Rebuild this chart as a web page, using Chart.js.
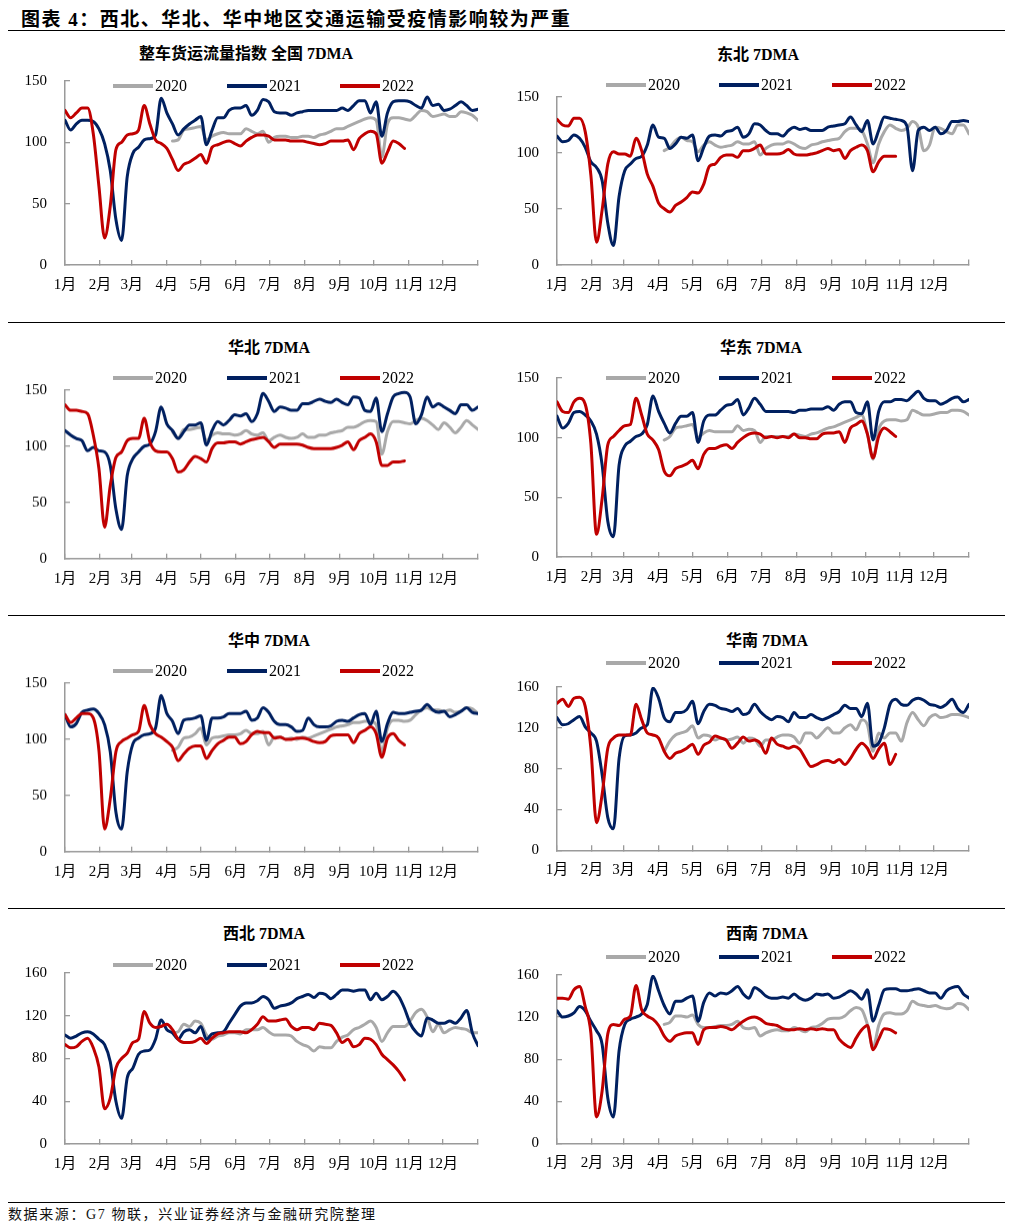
<!DOCTYPE html>
<html>
<head>
<meta charset="utf-8">
<script src="https://cdn.jsdelivr.net/npm/chart.js@4.4.1/dist/chart.umd.min.js"></script>
<style>
  html, body { margin: 0; padding: 0; background: #fff; }
  #page { position: relative; width: 1018px; height: 1228px; overflow: hidden; color: #000; }
  .hr { position: absolute; left: 8px; width: 997px; height: 1px; background: #000; }
  .main-title { position: absolute; left: 21px; top: 17px; transform: translateY(-50%);
    font: bold 19px "Liberation Serif", "Noto Sans CJK SC", serif; letter-spacing: 1.5px; white-space: nowrap; }
  .ptitle { position: absolute; transform: translate(-50%, -50%);
    font: bold 16px "Liberation Serif", "Noto Sans CJK SC", serif; white-space: nowrap; }
  .legend-item { position: absolute; display: flex; align-items: center; transform: translateY(-50%);
    font: 16px "Liberation Serif", serif; }
  .legend-item i { display: inline-block; width: 40px; height: 4px; margin-right: 2px; }
  .chartbox { position: absolute; }
  .source { position: absolute; left: 8px; top: 1213px; transform: translateY(-50%);
    font: 14px "Liberation Serif", "Noto Sans CJK SC", serif; letter-spacing: 1.6px; white-space: nowrap; color: #111; }
</style>
</head>
<body>
<div id="page">
  <div class="main-title">图表 4：西北、华北、华中地区交通运输受疫情影响较为严重</div>
  <div class="hr" style="top:30px"></div>
  <div class="hr" style="top:322px"></div>
  <div class="hr" style="top:615px"></div>
  <div class="hr" style="top:908px"></div>
  <div class="hr" style="top:1202px"></div>
  <div class="source">数据来源：G7 物联，兴业证券经济与金融研究院整理</div>
</div>
<script>
// day of year for each sample (every 5 days)
const DAYS = [0,5,10,15,20,25,30,35,40,45,50,55,60,65,70,75,80,85,90,95,
  100,105,110,115,120,125,130,135,140,145,150,155,160,165,170,175,180,185,190,195,
  200,205,210,215,220,225,230,235,240,245,250,255,260,265,270,275,280,285,290,295,
  300,305,310,315,320,325,330,335,340,345,350,355,360,365];
const MONTH_STARTS = [0,31,59,90,120,151,181,212,243,273,304,334,365];
const MONTH_LABELS = ["1月","2月","3月","4月","5月","6月","7月","8月","9月","10月","11月","12月",""];
const START_2020 = 19; // 2020 series begins at DAYS[19]
const YEARS = ["2020", "2021", "2022"];

// 全国
const QG_2020 = [101,
  102,110,111,112,113,102,105,107,108,107, 107,107,111,109,107,109,100,104,105,105,
  104,104,105,105,104,106,107,109,111,111, 113,115,117,119,120,118,88,115,120,120,
  119,118,122,126,125,121,122,123,121,121, 125,124,122,118];
const QG_2021 = [118,110,115,118,118,117,111,99,77,37, 20,72,91,96,102,103,106,136,124,115,
  106,111,115,118,121,98,110,120,120,126, 128,128,130,122,126,135,133,125,124,124,
  122,124,125,126,126,126,126,126,126,128, 126,130,134,134,124,133,105,124,133,134,
  134,133,130,128,137,130,131,126,127,130, 133,130,126,127];
const QG_2022 = [126,120,124,128,128,107,64,22,48,94, 100,106,107,110,130,115,102,99,95,86,
  77,82,84,87,90,83,96,98,100,101, 99,97,101,104,106,106,105,102,102,102,
  101,101,101,100,99,98,99,101,101,101, 102,94,103,107,109,107,83,92,101,99, 95];

// 东北
const DB_2020 = [102,
  105,111,114,111,110,101,107,110,107,105, 106,107,110,108,108,110,98,104,107,108,
  108,110,108,105,104,107,108,110,111,112, 113,119,122,122,120,108,91,108,119,125,
  122,120,122,128,123,102,107,123,122,119, 117,125,125,117];
const DB_2021 = [115,110,111,116,113,105,92,87,75,37, 17,61,84,90,95,97,107,125,114,113,
  104,108,114,113,116,93,105,115,116,115, 119,120,123,114,117,126,125,120,117,117,
  115,120,123,121,122,120,120,120,123,124, 125,126,132,125,119,129,108,120,132,131,
  130,129,124,84,120,123,120,123,117,120, 128,128,129,128];
const DB_2022 = [130,125,124,131,131,119,80,20,49,90, 101,99,99,97,113,102,81,70,55,50,
  47,53,56,60,65,64,72,88,90,96, 98,98,96,102,102,104,107,99,99,99,
  100,103,99,98,98,99,100,102,104,102, 103,95,102,105,107,102,83,92,97,97, 97];

// 华北
const HB_2020 = [113,
  107,115,115,116,117,105,110,112,111,111, 110,111,114,111,110,112,105,108,110,108,
  107,108,111,108,108,110,110,112,113,114, 117,117,119,122,123,122,93,113,122,122,
  121,120,123,125,123,119,115,121,117,112, 117,123,119,115];
const HB_2021 = [114,110,107,105,96,99,96,95,83,44, 26,74,89,95,100,102,113,135,120,114,
  107,113,119,119,121,101,114,122,119,123, 128,127,129,122,129,147,140,131,135,134,
  132,132,138,138,140,142,140,139,142,139, 137,144,143,132,131,143,113,129,144,147,
  148,144,120,128,144,135,138,135,132,129, 137,137,132,135];
const HB_2022 = [137,132,132,131,129,110,80,28,65,90, 95,105,107,107,125,104,96,95,95,89,
  77,79,86,91,89,86,98,103,103,104, 104,102,104,106,107,108,104,99,102,102,
  102,102,101,99,98,98,98,98,99,101, 104,97,105,108,111,104,83,83,86,86, 87];

// 华东
const HD_2020 = [98,
  101,108,109,110,111,100,104,106,105,105, 105,105,110,106,107,106,96,101,101,101,
  101,101,103,102,101,103,104,106,108,109, 111,113,115,117,119,103,82,107,114,115,
  115,114,115,123,121,119,119,120,121,121, 123,123,122,119];
const HD_2021 = [118,108,112,121,122,119,114,103,77,30, 17,77,93,97,101,103,111,135,122,112,
  104,112,118,118,121,96,114,119,119,123, 127,128,132,119,125,133,128,122,122,122,
  122,122,121,123,123,124,124,124,126,123, 128,130,130,121,120,130,98,122,130,130,
  132,132,131,135,139,133,131,131,128,130, 133,134,130,132];
const HD_2022 = [130,122,121,130,133,128,95,19,49,94, 101,106,110,111,133,119,103,98,90,72,
  68,74,76,78,81,74,86,91,91,93, 94,91,96,100,103,104,103,100,101,100,
  101,100,103,100,100,99,99,103,104,104, 105,96,108,111,114,103,83,101,108,105, 101];

// 华中
const HZ_2020 = [90,
  93,101,102,105,110,95,101,102,103,104, 104,105,108,105,105,107,95,102,102,100,
  101,100,102,101,103,105,107,109,111,112, 113,115,115,116,116,113,89,110,117,117,
  116,117,122,126,128,126,126,125,126,124, 125,128,127,123];
const HZ_2021 = [122,111,114,124,126,127,123,113,89,35, 20,71,96,101,104,105,110,139,123,116,
  105,117,118,119,121,99,119,119,120,123, 123,123,125,117,119,128,124,116,113,113,
  111,107,108,119,113,111,111,112,116,117, 116,119,122,123,113,125,98,114,124,123,
  123,124,125,126,131,126,124,125,120,122, 125,128,124,123];
const HZ_2022 = [122,115,119,123,123,119,90,20,47,89, 98,101,104,107,130,113,105,102,98,93,
  81,87,92,94,94,83,90,96,99,102, 102,96,98,104,107,106,106,101,102,100,
  100,101,101,100,98,97,98,103,104,104, 104,97,105,108,111,105,84,101,105,99, 95];

// 华南
const HN_2020 = [97,
  107,113,115,117,122,110,113,112,108,110, 108,109,111,105,110,109,102,108,108,111,
  113,113,111,105,115,115,110,115,120,115, 115,120,123,118,128,123,97,115,110,115,
  115,107,125,135,128,122,130,133,130,131, 133,133,132,130];
const HN_2021 = [130,123,124,128,131,121,115,107,74,32, 21,90,112,113,115,120,123,159,149,130,
  126,135,135,138,146,124,136,143,142,139, 138,136,139,133,135,143,136,131,128,131,
  130,126,135,130,130,133,130,128,130,133, 136,142,139,139,131,144,102,105,120,143,
  148,143,142,147,149,147,143,142,140,143, 148,139,135,143];
const HN_2022 = [144,148,141,149,150,141,100,27,55,100, 110,113,113,113,143,128,115,113,110,97,
  90,95,97,100,104,94,103,106,112,110, 108,100,105,111,107,108,105,95,110,104,
  102,100,102,99,90,82,84,87,88,86, 89,84,90,99,105,100,90,99,105,84, 94];

// 西北
const XB_2020 = [104,
  105,112,110,115,113,102,98,101,102,104, 104,103,107,107,107,109,105,102,102,102,
  101,96,93,91,87,91,90,90,96,100, 102,107,109,112,115,109,96,104,110,110,
  110,115,123,126,119,105,112,104,107,109, 108,107,104,104];
const XB_2021 = [102,99,101,104,105,103,98,93,77,40, 24,62,71,84,87,88,98,116,107,104,
  98,105,107,104,110,98,103,104,105,113, 121,129,132,132,134,138,135,127,129,130,
  132,136,138,140,137,141,140,136,140,144, 144,143,144,144,135,141,135,138,143,138,
  127,113,105,101,118,116,113,113,115,113, 118,125,104,92];
const XB_2022 = [93,90,91,96,99,90,72,33,43,71, 80,85,95,98,124,113,109,110,112,107,
  98,95,95,96,99,94,99,103,104,105, 105,105,104,107,112,119,115,115,116,117,
  110,107,109,109,107,113,112,111,104,95, 98,91,93,99,98,93,84,79,74,68, 60];

// 西南
const XN_2020 = [113,
  115,121,121,120,122,113,110,110,111,112, 112,113,116,110,109,110,102,105,107,108,
  107,107,110,108,106,110,111,114,118,119, 119,121,126,129,127,113,91,112,123,124,
  123,123,126,135,132,131,130,131,129,128, 129,133,132,127];
const XN_2021 = [126,120,121,124,130,126,116,107,94,43, 25,88,113,118,120,123,132,159,145,131,
  123,135,135,138,140,116,134,143,140,143, 142,145,149,142,138,148,145,140,138,138,
  139,138,142,138,136,138,142,141,142,138, 139,142,145,142,137,146,116,131,146,147,
  147,145,145,146,147,145,143,143,138,145, 148,149,142,138];
const XN_2022 = [138,138,137,146,149,130,105,25,50,104, 113,112,118,121,150,127,121,118,112,102,
  97,102,104,105,105,94,108,110,110,111, 110,108,112,116,119,120,118,114,113,112,
  109,108,108,109,108,109,108,109,108,108, 99,94,91,100,108,112,89,99,109,108, 105];

const PANELS = [
  { title: "整车货运流量指数 全国 7DMA", s: [QG_2020, QG_2021, QG_2022], yMax: 150, yStep: 50 },
  { title: "东北 7DMA", s: [DB_2020, DB_2021, DB_2022], yMax: 150, yStep: 50 },
  { title: "华北 7DMA", s: [HB_2020, HB_2021, HB_2022], yMax: 150, yStep: 50 },
  { title: "华东 7DMA", s: [HD_2020, HD_2021, HD_2022], yMax: 150, yStep: 50 },
  { title: "华中 7DMA", s: [HZ_2020, HZ_2021, HZ_2022], yMax: 150, yStep: 50 },
  { title: "华南 7DMA", s: [HN_2020, HN_2021, HN_2022], yMax: 160, yStep: 40 },
  { title: "西北 7DMA", s: [XB_2020, XB_2021, XB_2022], yMax: 160, yStep: 40 },
  { title: "西南 7DMA", s: [XN_2020, XN_2021, XN_2022], yMax: 160, yStep: 40 },
];

// page geometry of each panel: plot rectangle, title centre, legend row
const LAYOUT = [
  { x0: 65, x1: 479.3, y0: 81, y1: 265, tx: 246, ty: 52, ly: 86, col: 0 },
  { x0: 557.3, x1: 970.7, y0: 96.7, y1: 264.3, tx: 758, ty: 53, ly: 85, col: 1 },
  { x0: 65, x1: 479.3, y0: 390, y1: 557.7, tx: 269, ty: 346, ly: 378, col: 0 },
  { x0: 557.3, x1: 970.7, y0: 378.3, y1: 557.3, tx: 761, ty: 346, ly: 378, col: 1 },
  { x0: 65, x1: 479.3, y0: 683, y1: 850.7, tx: 269, ty: 639, ly: 671, col: 0 },
  { x0: 557.3, x1: 970.7, y0: 687, y1: 850.3, tx: 767, ty: 639, ly: 663, col: 1 },
  { x0: 65, x1: 479.3, y0: 972.7, y1: 1143.7, tx: 264, ty: 932, ly: 965, col: 0 },
  { x0: 557.3, x1: 970.7, y0: 975, y1: 1143.3, tx: 767, ty: 932, ly: 957, col: 1 },
];
const LEGEND_X = [[113, 227, 340], [606, 719, 832]];

const COLORS = { "2020": "#a9a9a9", "2021": "#002060", "2022": "#c00000" };
const AXIS = "#9a9a9a";
const TICK_FONT = { family: "'Liberation Serif', 'Noto Sans CJK SC', serif", size: 15 };
const YW = 60, XH = 40, PT = 10, PR = 15;

const page = document.getElementById("page");

const toPoints = (vals, start) => vals.map((v, i) => ({ x: DAYS[start + i], y: v }));

function addPanel(p, L) {
  const t = document.createElement("div");
  t.className = "ptitle";
  t.style.left = L.tx + "px";
  t.style.top = L.ty + "px";
  t.textContent = p.title;
  page.appendChild(t);

  const box = document.createElement("div");
  box.className = "chartbox";
  const w = Math.round(YW + (L.x1 - L.x0) + PR);
  const h = Math.round(PT + (L.y1 - L.y0) + XH);
  box.style.left = Math.round(L.x0 - YW) + "px";
  box.style.top = Math.round(L.y0 - PT) + "px";
  box.style.width = w + "px";
  box.style.height = h + "px";
  const cv = document.createElement("canvas");
  box.appendChild(cv);
  page.appendChild(box);

  const ds = (yr, idx, start) => ({
    label: yr,
    data: toPoints(p.s[idx], start),
    borderColor: COLORS[yr],
    backgroundColor: COLORS[yr],
    borderWidth: 3,
    pointRadius: 0,
    fill: false,
    cubicInterpolationMode: "monotone",
  });

  const chart = new Chart(cv, {
    type: "line",
    data: { datasets: [ds("2022", 2, 0), ds("2021", 1, 0), ds("2020", 0, START_2020)] },
    options: {
      responsive: true, maintainAspectRatio: false, animation: false,
      layout: { padding: { top: PT, right: PR, left: 0, bottom: 0 } },
      plugins: { legend: { display: false }, tooltip: { enabled: false } },
      elements: { line: { borderCapStyle: "round", borderJoinStyle: "round" } },
      scales: {
        x: {
          type: "linear", min: 0, max: 365,
          afterBuildTicks: (s) => { s.ticks = MONTH_STARTS.map((v) => ({ value: v })); },
          afterFit: (s) => { s.height = XH; },
          ticks: {
            autoSkip: false, maxRotation: 0, padding: 16, color: "#000", font: TICK_FONT,
            callback: (v, i) => MONTH_LABELS[i],
          },
          grid: { drawOnChartArea: false, tickLength: -5, color: AXIS, lineWidth: 1.3 },
          border: { color: AXIS, width: 1.5 },
        },
        y: {
          min: 0, max: p.yMax,
          afterFit: (s) => { s.width = YW; },
          ticks: { stepSize: p.yStep, padding: 23, color: "#000", font: TICK_FONT },
          grid: { drawOnChartArea: false, tickLength: -5, color: AXIS, lineWidth: 1.3 },
          border: { color: AXIS, width: 1.5 },
        },
      },
    },
  });

  // the layout adds its own room above the plot; move the box so the plot lands where it should
  const a = chart.chartArea;
  const below = h - a.bottom;
  box.style.top = (L.y0 - a.top) + "px";
  box.style.height = (a.top + (L.y1 - L.y0) + below) + "px";
  chart.resize();

  YEARS.forEach((yr, k) => {
    const it = document.createElement("div");
    it.className = "legend-item";
    it.style.left = LEGEND_X[L.col][k] + "px";
    it.style.top = L.ly + "px";
    it.innerHTML = `<i style="background:${COLORS[yr]}"></i>${yr}`;
    page.appendChild(it);
  });
}

PANELS.forEach((p, i) => addPanel(p, LAYOUT[i]));
</script>
</body>
</html>
